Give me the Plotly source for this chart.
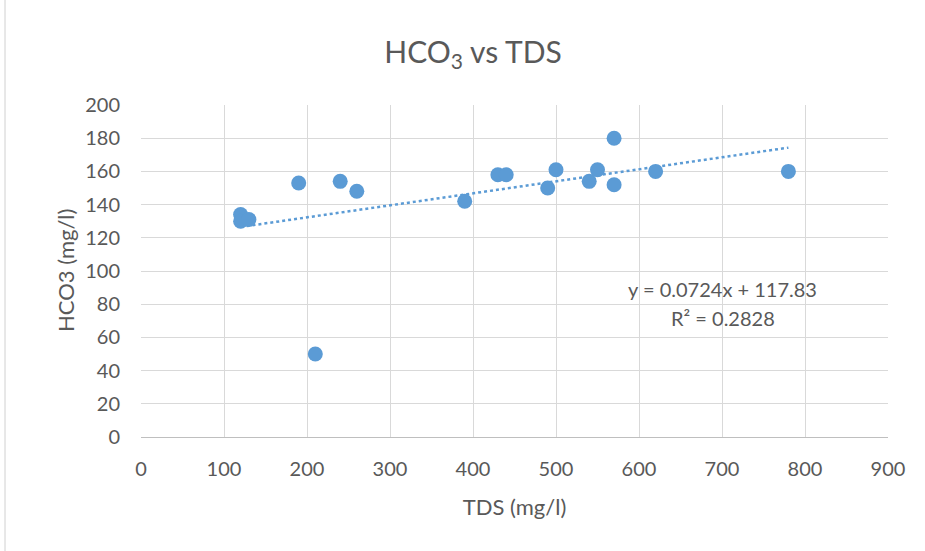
import plotly.graph_objects as go

# TDS (mg/l) and HCO3 (mg/l) sample values
tds = [120, 120, 130, 190, 210, 240, 260, 390, 430, 440, 490, 500, 540, 550, 570, 570, 620, 780]
hco3 = [134, 130, 131, 153, 50, 154, 148, 142, 158, 158, 150, 161, 154, 161, 180, 152, 160, 160]

# Linear trendline coefficients
slope = 0.0724
intercept = 117.83
r_squared = 0.2828

x_ticks = [0, 100, 200, 300, 400, 500, 600, 700, 800, 900]
y_ticks = [0, 20, 40, 60, 80, 100, 120, 140, 160, 180, 200]

FONT = "Lato, Open Sans, sans-serif"
TEXT = "#595959"
BLUE = "#5B9BD5"

x_lo, x_hi = min(tds), max(tds)
trend_x = [x_lo, x_hi]
trend_y = [slope * v + intercept for v in trend_x]

fig = go.Figure()
fig.add_trace(go.Scatter(
    x=trend_x, y=trend_y, mode="lines",
    line=dict(color=BLUE, width=2.5, dash="dot"),
    hoverinfo="skip", showlegend=False,
))
fig.add_trace(go.Scatter(
    x=tds, y=hco3, mode="markers",
    marker=dict(color=BLUE, size=15, line=dict(width=0)),
    showlegend=False,
))

fig.add_annotation(
    x=701, y=89, xref="x", yref="y", showarrow=False,
    text=f"y = {slope}x + {intercept}",
    font=dict(family=FONT, size=20, color=TEXT),
)
fig.add_annotation(
    x=701, y=71.5, xref="x", yref="y", showarrow=False,
    text=f"R² = {r_squared}",
    font=dict(family=FONT, size=20, color=TEXT),
)

# Vertical axis title
fig.add_annotation(
    x=(65 - 141) / 747, y=0.5, xref="paper", yref="paper",
    xanchor="center", yanchor="middle", showarrow=False, textangle=-90,
    text="HCO3 (mg/l)",
    font=dict(family=FONT, size=22, color=TEXT),
)

# Thin frame line at the left edge of the chart area
fig.add_shape(
    type="line", xref="paper", yref="paper",
    x0=(5 - 141) / 747, x1=(5 - 141) / 747, y0=-114 / 332, y1=(551 - 114) / 332,
    line=dict(color="#d0d0d0", width=1),
)

fig.update_layout(
    width=925, height=551,
    margin=dict(l=141, r=37, t=105, b=114),
    paper_bgcolor="white", plot_bgcolor="white",
    title=dict(
        text="HCO<sub>3</sub> vs TDS",
        x=473 / 925, xanchor="center", y=1 - 52 / 551, yanchor="middle",
        font=dict(family=FONT, size=30, color=TEXT),
    ),
    xaxis=dict(
        range=[0, 900], tickvals=x_ticks, ticktext=[str(v) for v in x_ticks],
        showgrid=True, gridcolor="#d9d9d9", gridwidth=1,
        zeroline=False, showline=True, linecolor="#bfbfbf", linewidth=1,
        ticks="", ticklabelstandoff=14,
        tickfont=dict(family=FONT, size=20, color=TEXT),
        title=dict(text="TDS (mg/l)", standoff=20,
                   font=dict(family=FONT, size=22, color=TEXT)),
    ),
    yaxis=dict(
        range=[0, 200], tickvals=y_ticks, ticktext=[str(v) for v in y_ticks],
        showgrid=True, gridcolor="#d9d9d9", gridwidth=1,
        zeroline=False, showline=False,
        ticks="", ticklabelstandoff=20,
        tickfont=dict(family=FONT, size=20, color=TEXT),
    ),
)

fig.write_html("out.html")
